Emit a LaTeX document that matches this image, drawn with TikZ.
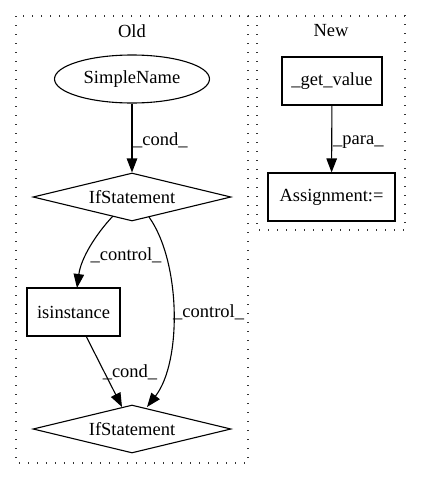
\documentclass[tikz,border=0pt]{standalone}
\usepackage{fontspec}
\setmainfont{Liberation Serif}
\usetikzlibrary{shapes.geometric,arrows.meta}
\begin{document}
\begin{tikzpicture}[x=1pt,y=-1pt,
  every node/.style={font=\fontsize{18.5}{22}\selectfont, inner sep=0pt},
  cluster/.style={draw=black!80, line width=1.4pt, dash pattern=on 1.4pt off 7.6pt},
  boxnode/.style={draw, line width=1.1pt, rectangle, minimum height=48pt},
  dia/.style={draw, line width=1.1pt, diamond, aspect=4.1, minimum width=198pt, minimum height=48pt},
  ell/.style={draw, line width=1.1pt, ellipse, minimum width=155pt, minimum height=48pt},
  edge/.style={line width=1.1pt, -{Triangle[length=14pt,width=10.5pt]}},
  lbl/.style={font=\fontsize{18.5}{22}\selectfont}]
\useasboundingbox (0,0) rectangle (421,480);
% clusters
\draw[cluster] (16,16) rectangle (248,463);
\draw[cluster] (257,16) rectangle (405,230);
\node (oldlbl) at (132,31) {Old};
\node (newlbl) at (331,31) {New};
% nodes Old
\node[ell] (sn) at (132,79) {SimpleName};
\node[dia] (if1) at (132,197) {};
\node (if1t) at (132,197) {IfStatement};
\node[boxnode, minimum width=93pt] (isi) at (73.5,312) {isinstance};
\node[dia] (if2) at (132,429) {};
\node (if2t) at (132,429) {IfStatement};
% nodes New
\node[boxnode, minimum width=100pt] (gv) at (332,81) {\_get\_value};
\node[boxnode, minimum width=127pt] (as) at (331.5,197) {Assignment:=};
% connector anchor points
\coordinate (if1a) at (113,216);
\coordinate (if1b) at (149,217);
\coordinate (if2a) at (122,407);
\coordinate (if2b) at (147,407);
\coordinate (isitop) at (77,288);
\coordinate (isibot) at (86,336);
% edges
\draw[edge] (sn) -- (if1.north);
\draw[edge] (if1a) .. controls (96,234) and (81,258) .. (isitop);
\draw[edge] (if1b) .. controls (181,262) and (182,362) .. (if2b);
\draw[edge] (isibot) -- (if2a);
\draw[edge] (gv) -- (as);
% edge labels
\node[lbl, anchor=west] (l1) at (133,140) {\_cond\_};
\node[lbl] (l2) at (126,255) {\_control\_};
\node[lbl, anchor=west] (l3) at (173,312) {\_control\_};
\node[lbl] (l4) at (130,372) {\_cond\_};
\node[lbl, anchor=west] (l5) at (333,142) {\_para\_};
\end{tikzpicture}
\end{document}
